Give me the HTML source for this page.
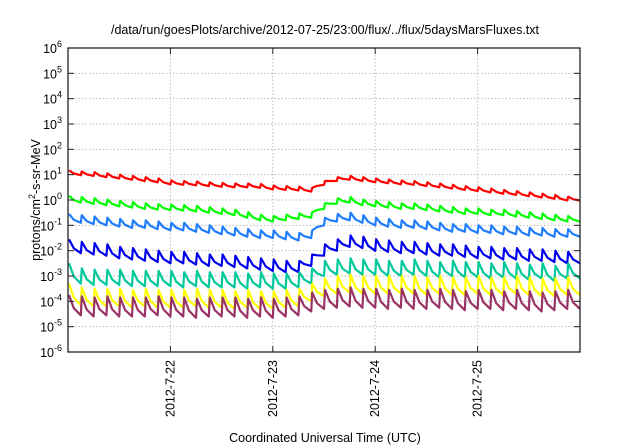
<!DOCTYPE html>
<html><head><meta charset="utf-8"><style>
body{margin:0;background:#fff}
svg{display:block;font-family:"Liberation Sans","DejaVu Sans",sans-serif}
</style></head><body>
<svg id="chart" width="640" height="448" viewBox="0 0 640 448" xmlns="http://www.w3.org/2000/svg">
<text x="325" y="34" text-anchor="middle" font-size="12.5">/data/run/goesPlots/archive/2012-07-25/23:00/flux/../flux/5daysMarsFluxes.txt</text>
<g id="grid"></g>
<g id="series"></g>
<rect x="68" y="48" width="512" height="304" fill="none" stroke="#222" stroke-width="1.3"/>
<g id="axes"></g>
<text x="325" y="442" text-anchor="middle" font-size="12.5">Coordinated Universal Time (UTC)</text>
<text transform="translate(40,200) rotate(-90)" text-anchor="middle" font-size="12.5">protons/cm<tspan font-size="9" dy="-5">2</tspan><tspan dy="5">-s-sr-MeV</tspan></text>
</svg>
<script>
const dayTicks=[22,23,24,25];
const dayLabels=["2012-7-22","2012-7-23","2012-7-24","2012-7-25"];
const decades=[-6,-5,-4,-3,-2,-1,0,1,2,3,4,5,6];
const seriesColors=["#ff0000","#00ff00","#1e7cff","#0000ee","#00c89a","#ffff00","#993366"];
const redT=[1.02,0.98,0.95,0.9,0.85,0.8,0.75,0.7,0.62,0.6,0.58,0.55,0.52,0.5,0.5,0.48,0.42,0.4,0.38,0.33,0.6,0.75,0.8,0.75,0.7,0.66,0.62,0.6,0.55,0.5,0.45,0.4,0.35,0.3,0.25,0.2,0.15,0.1,0.05,-0.02];
const greenT=[-0.05,-0.1,-0.15,-0.2,-0.25,-0.3,-0.35,-0.38,-0.4,-0.42,-0.45,-0.5,-0.55,-0.6,-0.7,-0.8,-0.85,-0.8,-0.75,-0.7,-0.35,-0.15,-0.1,-0.2,-0.25,-0.3,-0.35,-0.35,-0.4,-0.45,-0.5,-0.55,-0.55,-0.6,-0.6,-0.65,-0.7,-0.75,-0.8,-0.85];
const lblueT=[-0.85,-0.9,-0.95,-1.0,-1.05,-1.1,-1.1,-1.15,-1.2,-1.2,-1.25,-1.3,-1.35,-1.4,-1.45,-1.5,-1.5,-1.55,-1.6,-1.5,-1.0,-0.85,-0.8,-0.9,-1.0,-1.05,-1.1,-1.1,-1.15,-1.2,-1.25,-1.25,-1.3,-1.3,-1.35,-1.35,-1.4,-1.4,-1.45,-1.45];
const blueT=[-2.0,-2.1,-2.15,-2.2,-2.3,-2.35,-2.4,-2.45,-2.5,-2.5,-2.55,-2.6,-2.6,-2.65,-2.7,-2.75,-2.8,-2.85,-2.85,-2.6,-2.2,-2.0,-1.85,-1.9,-2.0,-2.05,-2.1,-2.1,-2.15,-2.2,-2.2,-2.25,-2.3,-2.3,-2.35,-2.35,-2.4,-2.4,-2.45,-2.5];
const tealT=[-3.1,-3.3,-3.35,-3.35,-3.35,-3.4,-3.4,-3.4,-3.4,-3.45,-3.4,-3.45,-3.45,-3.45,-3.5,-3.45,-3.5,-3.5,-3.45,-3.3,-3.0,-2.95,-2.9,-2.95,-2.95,-3.0,-3.0,-2.95,-3.0,-3.05,-3.0,-3.05,-3.05,-3.1,-3.05,-3.1,-3.15,-3.1,-3.2,-3.1];
const yellowT=[-4.0,-4.15,-4.2,-4.2,-4.2,-4.25,-4.2,-4.25,-4.25,-4.25,-4.2,-4.25,-4.25,-4.3,-4.25,-4.3,-4.3,-4.25,-4.2,-4.0,-3.8,-3.7,-3.65,-3.7,-3.7,-3.7,-3.7,-3.7,-3.75,-3.7,-3.75,-3.75,-3.7,-3.75,-3.75,-3.7,-3.75,-3.8,-3.8,-3.75];
const purpleT=[-4.5,-4.55,-4.6,-4.55,-4.6,-4.6,-4.6,-4.55,-4.6,-4.6,-4.65,-4.6,-4.6,-4.6,-4.65,-4.6,-4.65,-4.6,-4.55,-4.4,-4.3,-4.25,-4.2,-4.25,-4.25,-4.3,-4.25,-4.3,-4.3,-4.25,-4.3,-4.35,-4.3,-4.3,-4.35,-4.3,-4.35,-4.4,-4.35,-4.3];
const seriesTroughs=[redT,greenT,lblueT,blueT,tealT,yellowT,purpleT];
const seriesAmps=[0.15,0.22,0.3,0.45,0.6,0.7,0.75];
const seriesNames=["series-red","series-green","series-lightblue","series-blue","series-teal","series-yellow","series-purple"];
const NS="http://www.w3.org/2000/svg";
const X0=68,X1=580,Y0=48,Y1=352,D0=21,D1=26;
const xs=d=>X0+(d-D0)/(D1-D0)*(X1-X0);
const ys=l=>Y1-(l+6)/12*(Y1-Y0);
function mk(tag,attrs,parent){const e=document.createElementNS(NS,tag);for(const k in attrs)e.setAttribute(k,attrs[k]);parent.appendChild(e);return e;}
const grid=document.getElementById('grid'),axes=document.getElementById('axes'),sg=document.getElementById('series');
decades.forEach(l=>{
  const y=ys(l);
  if(l>-6&&l<6){const g=mk('line',{x1:X0,x2:X1,y1:y,y2:y,stroke:'#bbb','stroke-dasharray':'1.5,2','stroke-width':1},grid);
  }
  const t1=mk('line',{x1:X0,x2:X0+6,y1:y,y2:y,stroke:'#222'},axes);
  
  const t2=mk('line',{x1:X1-6,x2:X1,y1:y,y2:y,stroke:'#222'},axes);
  
  const tx=mk('text',{x:62,y:y+5,'text-anchor':'end','font-size':'12.5'},axes);
  
  tx.appendChild(document.createTextNode('10'));
  const sp=mk('tspan',{dy:-6,'font-size':'9'},tx);sp.textContent=String(l);
});
dayTicks.forEach((d,i)=>{
  const x=xs(d);
  const g=mk('line',{x1:x,x2:x,y1:Y0,y2:Y1,stroke:'#bbb','stroke-dasharray':'1.5,2','stroke-width':1},grid);
  
  const t1=mk('line',{x1:x,x2:x,y1:Y1-6,y2:Y1,stroke:'#222'},axes);
  
  const t2=mk('line',{x1:x,x2:x,y1:Y0,y2:Y0+6,stroke:'#222'},axes);
  
  const tx=mk('text',{transform:`translate(${x+4},${Y1+8}) rotate(-90)`,'text-anchor':'end','font-size':'12.5'},axes);
  
  tx.textContent=dayLabels[i];
});
seriesTroughs.forEach((arr,s)=>{
  const n=arr.length,amp=seriesAmps[s],step=(D1-D0)/n;let pts=[];
  for(let i=0;i<n;i++){
    const t=D0+i*step,pk=arr[i]+amp,next=i+1<n?arr[i+1]:arr[i];
    if(i>0)pts.push([t,arr[i]]);
    pts.push([t+step*0.08,pk]);
    pts.push([t+step*0.45,next+(pk-next)*0.35]);
    if(i===n-1)pts.push([D1,next]);
  }
  const p=mk('polyline',{points:pts.map(q=>xs(q[0]).toFixed(1)+','+ys(q[1]).toFixed(1)).join(' '),fill:'none',stroke:seriesColors[s],'stroke-width':2.2,'stroke-linejoin':'round'},sg);
  
  
});
</script>
</body></html>
